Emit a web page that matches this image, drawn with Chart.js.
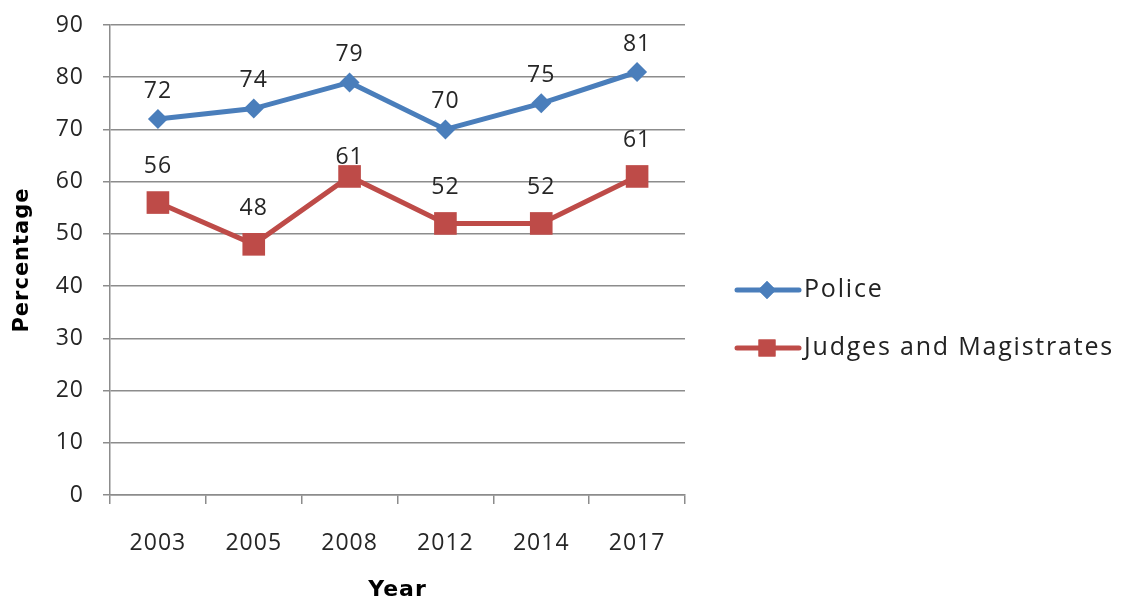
<!DOCTYPE html>
<html lang="en">
<head>
    <meta charset="UTF-8">
    <script src="https://cdn.jsdelivr.net/npm/chart.js"></script>
    <title>Police vs Judges</title>
    <style>
        body { margin: 0; background: #fff; }
        #wrap { width: 1122px; height: 599px; }
    </style>
</head>
<body>
    <div id="wrap">
        <canvas id="myChart" width="1122" height="599"></canvas>
    </div>
    <script>
        const years = ['2003', '2005', '2008', '2012', '2014', '2017']
        const police = [72, 74, 79, 70, 75, 81]
        const judges = [56, 48, 61, 52, 52, 61]
        const seriesNames = ['Police', 'Judges and Magistrates']

        const blue = '#4a7ebb'
        const red = '#be4b48'
        const gridColor = '#8c8c8c'
        const fontFam = '"Open Sans", sans-serif'
        const titleFam = '"DejaVu Sans", sans-serif'

        // a bit of letter spacing to get closer to the original's wide text
        const spacing = {
            id: 'spacing',
            beforeInit(chart) { chart.ctx.letterSpacing = '1px' },
            beforeUpdate(chart) { chart.ctx.letterSpacing = '1px' },
            beforeDraw(chart) { chart.ctx.letterSpacing = '1px' }
        }

        // value labels over each point
        const valueLabels = {
            id: 'valueLabels',
            afterDatasetsDraw(chart) {
                const ctx = chart.ctx
                ctx.save()
                ctx.font = '23px ' + fontFam
                ctx.fillStyle = '#262626'
                ctx.textAlign = 'center'
                ctx.textBaseline = 'middle'
                chart.data.datasets.forEach((ds, i) => {
                    const meta = chart.getDatasetMeta(i)
                    meta.data.forEach((pt, j) => {
                        let off = ds.labelOffset
                        if (i === 1 && j === 2) off = 19
                        ctx.fillText(ds.data[j], pt.x, pt.y - off)
                    })
                })
                ctx.restore()
            }
        }

        // excel style legend: line with marker in the middle
        const sideLegend = {
            id: 'sideLegend',
            afterDraw(chart) {
                const ctx = chart.ctx
                const rows = [290, 348]
                ctx.save()
                chart.data.datasets.forEach((ds, i) => {
                    const y = rows[i]
                    ctx.strokeStyle = ds.borderColor
                    ctx.lineWidth = 5
                    ctx.lineCap = 'round'
                    ctx.beginPath()
                    ctx.moveTo(737, y)
                    ctx.lineTo(799, y)
                    ctx.stroke()
                    ctx.fillStyle = ds.backgroundColor
                    Chart.helpers.drawPoint(ctx, {
                        pointStyle: ds.pointStyle,
                        radius: i === 0 ? 9 : 12,
                        borderWidth: 0
                    }, 767, y)
                    ctx.fill()
                    ctx.fillStyle = '#222'
                    ctx.font = '25px ' + fontFam
                    ctx.letterSpacing = '1.8px'
                    ctx.textBaseline = 'middle'
                    ctx.textAlign = 'left'
                    ctx.fillText(ds.label, 804, y)
                })
                ctx.restore()
            }
        }

        const ctx = document.getElementById('myChart')
        new Chart(ctx, {
            type: 'line',
            data: {
                labels: years,
                datasets: [{
                    label: seriesNames[0],
                    data: police,
                    borderColor: blue,
                    backgroundColor: blue,
                    borderWidth: 5,
                    pointStyle: 'rectRot',
                    pointRadius: 10,
                    pointBorderWidth: 0,
                    tension: 0,
                    labelOffset: 28
                }, {
                    label: seriesNames[1],
                    data: judges,
                    borderColor: red,
                    backgroundColor: red,
                    borderWidth: 5,
                    pointStyle: 'rect',
                    pointRadius: 16,
                    pointBorderWidth: 0,
                    tension: 0,
                    labelOffset: 36
                }]
            },
            plugins: [spacing, valueLabels, sideLegend],
            options: {
                responsive: false,
                animation: false,
                layout: { padding: { top: 25, right: 437, bottom: 0, left: 0 } },
                plugins: {
                    legend: { display: false },
                    tooltip: { enabled: false }
                },
                scales: {
                    y: {
                        min: 0,
                        max: 90,
                        afterFit: s => {
                            s.width = 110
                            s.paddingTop = 0
                            s.paddingBottom = 0
                        },
                        ticks: {
                            stepSize: 10,
                            color: '#262626',
                            font: { size: 23, family: fontFam },
                            padding: 19
                        },
                        grid: {
                            color: gridColor,
                            lineWidth: 1.5,
                            tickLength: 7
                        },
                        border: { color: gridColor, width: 1.5 },
                        title: {
                            display: true,
                            text: 'Percentage',
                            color: '#000',
                            font: { size: 21, weight: 'bold', family: titleFam },
                            padding: { top: 10, bottom: 0 }
                        }
                    },
                    x: {
                        offset: true,
                        afterFit: s => { s.height = 104 },
                        ticks: {
                            color: '#262626',
                            font: { size: 23, family: fontFam },
                            padding: 26,
                            maxRotation: 0
                        },
                        grid: {
                            offset: true,
                            drawOnChartArea: false,
                            color: gridColor,
                            lineWidth: 1.5,
                            tickLength: 9
                        },
                        border: { color: gridColor, width: 1.5 },
                        title: {
                            display: true,
                            text: 'Year',
                            color: '#000',
                            font: { size: 22, weight: 'bold', family: titleFam },
                            padding: { top: 0, bottom: -4 }
                        }
                    }
                }
            }
        })
    </script>
</body>
</html>
